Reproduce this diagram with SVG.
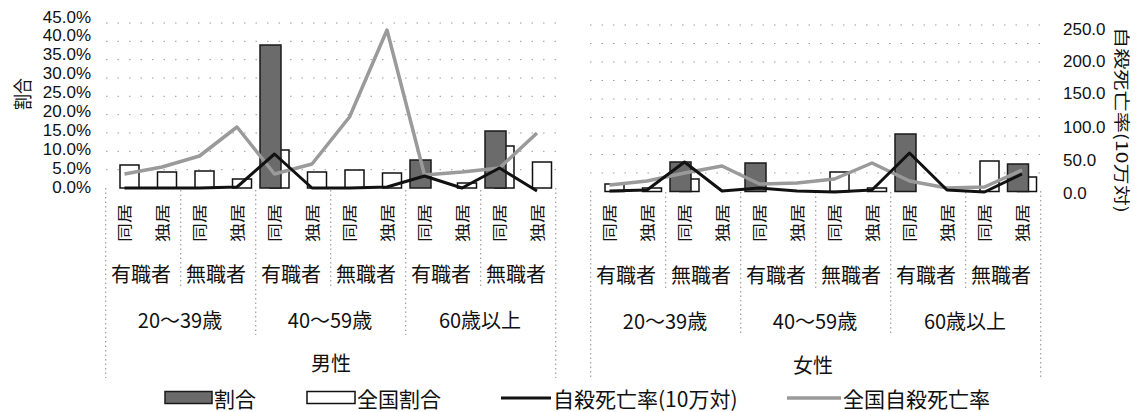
<svg xmlns="http://www.w3.org/2000/svg" width="1142" height="412" viewBox="0 0 1142 412">
<style>
.bg{fill:#fff}
.grid{stroke:#9a9a9a;stroke-width:1;stroke-dasharray:1.5 10;fill:none}
.sep{stroke:#8a8a8a;stroke-width:1;stroke-dasharray:1.5 3;fill:none}
.dark{fill:#6b6b6b;stroke:#1a1a1a;stroke-width:1.5}
.white{fill:#fff;stroke:#111;stroke-width:1.5}
.blk{fill:none;stroke:#111;stroke-width:3;stroke-linejoin:round}
.gry{fill:none;stroke:#9a9a9a;stroke-width:3.5;stroke-linejoin:round}
.ax{font-family:"Liberation Sans","Noto Sans CJK JP",sans-serif;font-size:17px;fill:#111}
.jp{font-family:"Noto Sans CJK JP","Noto Sans CJK SC",sans-serif;fill:#111}
.cat{font-size:20px;text-anchor:middle;dominant-baseline:central}
.rot{font-size:15px;text-anchor:middle;dominant-baseline:central}
.leg{font-size:21px;dominant-baseline:central}
</style>
<rect class="bg" x="0" y="0" width="1142" height="412"/>

<g id="gridlines">
<path class="grid" d="M106 169.7H556M106 151.3H556M106 133H556M106 114.7H556M106 96.3H556M106 78H556M106 59.7H556M106 41.3H556M106 23H556"/>
<path class="grid" d="M590 173H1040M590 154.5H1040M590 136H1040M590 117.5H1040M590 99H1040M590 80.5H1040M590 62H1040M590 43.5H1040M590 25H1040"/>
<path class="sep" d="M105.75 188V378M555.75 188V378M255.75 190V335M405.75 190V335M180.75 190V288M330.75 190V288M480.75 190V288"/>
<path class="sep" d="M590.75 191V378M1040.75 191V378M740.75 192V335M890.75 192V335M665.75 192V288M815.75 192V288M965.75 192V288"/>
</g>

<g id="axis-left">
<text class="ax" x="91" y="17" text-anchor="end" dominant-baseline="central">45.0%</text>
<text class="ax" x="91" y="35.9" text-anchor="end" dominant-baseline="central">40.0%</text>
<text class="ax" x="91" y="54.8" text-anchor="end" dominant-baseline="central">35.0%</text>
<text class="ax" x="91" y="73.7" text-anchor="end" dominant-baseline="central">30.0%</text>
<text class="ax" x="91" y="92.6" text-anchor="end" dominant-baseline="central">25.0%</text>
<text class="ax" x="91" y="111.5" text-anchor="end" dominant-baseline="central">20.0%</text>
<text class="ax" x="91" y="130.4" text-anchor="end" dominant-baseline="central">15.0%</text>
<text class="ax" x="91" y="149.3" text-anchor="end" dominant-baseline="central">10.0%</text>
<text class="ax" x="91" y="168.2" text-anchor="end" dominant-baseline="central">5.0%</text>
<text class="ax" x="91" y="187.1" text-anchor="end" dominant-baseline="central">0.0%</text>
<text class="jp" font-size="19" text-anchor="middle" dominant-baseline="central" textLength="32" lengthAdjust="spacingAndGlyphs" transform="translate(21,94) rotate(-90)">割合</text>
</g>

<g id="axis-right">
<text class="ax" x="1063" y="29" dominant-baseline="central">250.0</text>
<text class="ax" x="1063" y="61" dominant-baseline="central">200.0</text>
<text class="ax" x="1063" y="93" dominant-baseline="central">150.0</text>
<text class="ax" x="1063" y="127" dominant-baseline="central">100.0</text>
<text class="ax" x="1063" y="160" dominant-baseline="central">50.0</text>
<text class="ax" x="1063" y="193" dominant-baseline="central">0.0</text>
<text class="jp" font-size="16" text-anchor="middle" dominant-baseline="central" textLength="186" lengthAdjust="spacingAndGlyphs" transform="translate(1123,120) rotate(90)">自殺死亡率(10万対)</text>
</g>

<g id="bars-male">
<rect class="white" x="120" y="165" width="19" height="23"/>
<rect class="white" x="157.5" y="172" width="19" height="16"/>
<rect class="white" x="195" y="171" width="19" height="17"/>
<rect class="white" x="232.5" y="179" width="19" height="9"/>
<rect class="white" x="270" y="150" width="19" height="38"/>
<rect class="white" x="307.5" y="172" width="19" height="16"/>
<rect class="white" x="345" y="170" width="19" height="18"/>
<rect class="white" x="382.5" y="173" width="19" height="15"/>
<rect class="white" x="457.5" y="183" width="19" height="5"/>
<rect class="white" x="495" y="146" width="19" height="42"/>
<rect class="white" x="532.5" y="162" width="19" height="26"/>
<rect class="dark" x="260" y="45" width="21" height="143"/>
<rect class="dark" x="410" y="160" width="21" height="28"/>
<rect class="dark" x="485" y="131" width="21" height="57"/>
</g>

<g id="bars-female">
<rect class="white" x="605" y="184" width="19" height="7.5"/>
<rect class="white" x="642.5" y="188" width="19" height="3.5"/>
<rect class="white" x="680" y="179" width="19" height="12.5"/>
<rect class="white" x="830" y="172" width="19" height="19.5"/>
<rect class="white" x="867.5" y="188" width="19" height="3.5"/>
<rect class="white" x="980" y="161" width="19" height="30.5"/>
<rect class="white" x="1017.5" y="177" width="19" height="14.5"/>
<rect class="dark" x="670" y="162" width="21" height="29.5"/>
<rect class="dark" x="745" y="163" width="21" height="28.5"/>
<rect class="dark" x="895" y="134" width="21" height="57.5"/>
<rect class="dark" x="1007.5" y="164" width="21" height="27.5"/>
</g>

<g id="connectors">
<polyline class="gry" points="124.5,174 162,167 199.5,156 237,127 274.5,174 312,164 349.5,117 387,30 424.5,175 462,172 499.5,168 537,133"/>
<polyline class="blk" points="124.5,188 162,188 199.5,188 237,187 274.5,154 312,188 349.5,188 387,187 424.5,176 462,188 499.5,168 537,191"/>
<polyline class="gry" points="609.5,185 647,181 684.5,173 722,166 759.5,184 797,183 834.5,179 872,163 909.5,181 947,188 984.5,187 1022,170"/>
<polyline class="blk" points="609.5,191 647,190 684.5,162 722,191 759.5,188 797,191 834.5,192 872,190 909.5,153 947,190 984.5,192 1022,174"/>
</g>

<g id="labels-male" class="jp">
<text class="rot" textLength="38" lengthAdjust="spacingAndGlyphs" transform="translate(123.5,223) rotate(-90)">同居</text>
<text class="rot" textLength="38" lengthAdjust="spacingAndGlyphs" transform="translate(161,223) rotate(-90)">独居</text>
<text class="rot" textLength="38" lengthAdjust="spacingAndGlyphs" transform="translate(198.5,223) rotate(-90)">同居</text>
<text class="rot" textLength="38" lengthAdjust="spacingAndGlyphs" transform="translate(236,223) rotate(-90)">独居</text>
<text class="rot" textLength="38" lengthAdjust="spacingAndGlyphs" transform="translate(273.5,223) rotate(-90)">同居</text>
<text class="rot" textLength="38" lengthAdjust="spacingAndGlyphs" transform="translate(311,223) rotate(-90)">独居</text>
<text class="rot" textLength="38" lengthAdjust="spacingAndGlyphs" transform="translate(348.5,223) rotate(-90)">同居</text>
<text class="rot" textLength="38" lengthAdjust="spacingAndGlyphs" transform="translate(386,223) rotate(-90)">独居</text>
<text class="rot" textLength="38" lengthAdjust="spacingAndGlyphs" transform="translate(423.5,223) rotate(-90)">同居</text>
<text class="rot" textLength="38" lengthAdjust="spacingAndGlyphs" transform="translate(461,223) rotate(-90)">独居</text>
<text class="rot" textLength="38" lengthAdjust="spacingAndGlyphs" transform="translate(498.5,223) rotate(-90)">同居</text>
<text class="rot" textLength="38" lengthAdjust="spacingAndGlyphs" transform="translate(536,223) rotate(-90)">独居</text>
<text class="cat" x="141" y="273">有職者</text>
<text class="cat" x="216" y="273">無職者</text>
<text class="cat" x="291" y="273">有職者</text>
<text class="cat" x="366" y="273">無職者</text>
<text class="cat" x="441" y="273">有職者</text>
<text class="cat" x="516" y="273">無職者</text>
<text class="cat" x="180" y="319">20〜39歳</text>
<text class="cat" x="330" y="319">40〜59歳</text>
<text class="cat" x="480" y="319">60歳以上</text>
<text class="cat" x="331" y="362">男性</text>
</g>

<g id="labels-female" class="jp">
<text class="rot" textLength="38" lengthAdjust="spacingAndGlyphs" transform="translate(608.5,223) rotate(-90)">同居</text>
<text class="rot" textLength="38" lengthAdjust="spacingAndGlyphs" transform="translate(646,223) rotate(-90)">独居</text>
<text class="rot" textLength="38" lengthAdjust="spacingAndGlyphs" transform="translate(683.5,223) rotate(-90)">同居</text>
<text class="rot" textLength="38" lengthAdjust="spacingAndGlyphs" transform="translate(721,223) rotate(-90)">独居</text>
<text class="rot" textLength="38" lengthAdjust="spacingAndGlyphs" transform="translate(758.5,223) rotate(-90)">同居</text>
<text class="rot" textLength="38" lengthAdjust="spacingAndGlyphs" transform="translate(796,223) rotate(-90)">独居</text>
<text class="rot" textLength="38" lengthAdjust="spacingAndGlyphs" transform="translate(833.5,223) rotate(-90)">同居</text>
<text class="rot" textLength="38" lengthAdjust="spacingAndGlyphs" transform="translate(871,223) rotate(-90)">独居</text>
<text class="rot" textLength="38" lengthAdjust="spacingAndGlyphs" transform="translate(908.5,223) rotate(-90)">同居</text>
<text class="rot" textLength="38" lengthAdjust="spacingAndGlyphs" transform="translate(946,223) rotate(-90)">独居</text>
<text class="rot" textLength="38" lengthAdjust="spacingAndGlyphs" transform="translate(983.5,223) rotate(-90)">同居</text>
<text class="rot" textLength="38" lengthAdjust="spacingAndGlyphs" transform="translate(1021,223) rotate(-90)">独居</text>
<text class="cat" x="626" y="274">有職者</text>
<text class="cat" x="701" y="274">無職者</text>
<text class="cat" x="776" y="274">有職者</text>
<text class="cat" x="851" y="274">無職者</text>
<text class="cat" x="926" y="274">有職者</text>
<text class="cat" x="1001" y="274">無職者</text>
<text class="cat" x="665" y="320">20〜39歳</text>
<text class="cat" x="815" y="320">40〜59歳</text>
<text class="cat" x="965" y="320">60歳以上</text>
<text class="cat" x="813" y="364">女性</text>
</g>

<g id="legend" class="jp">
<rect class="dark" x="165" y="391.5" width="47" height="12"/>
<text class="leg" x="214" y="398">割合</text>
<rect class="white" x="307" y="391.5" width="48" height="12"/>
<text class="leg" x="357" y="398">全国割合</text>
<line class="blk" x1="501" y1="398" x2="551" y2="398"/>
<text class="leg" x="553" y="398">自殺死亡率(10万対)</text>
<line class="gry" x1="787" y1="398" x2="841" y2="398"/>
<text class="leg" x="843" y="398">全国自殺死亡率</text>
</g>
</svg>
